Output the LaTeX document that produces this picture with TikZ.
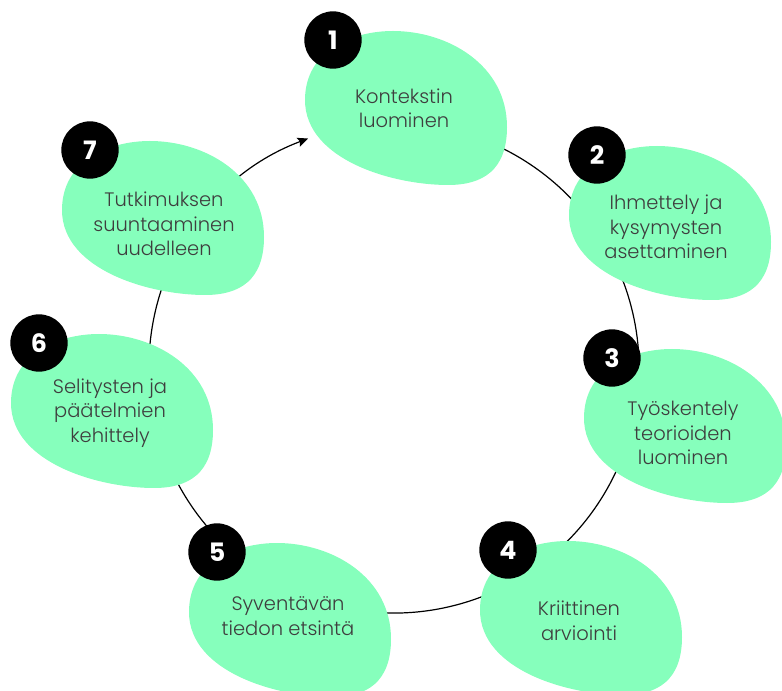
\documentclass[tikz,border=0pt]{standalone}
\usepackage{fontspec}
\setmainfont{Poppins}
\IfFontExistsTF{Poppins Light}{\newfontfamily\lightfont{Poppins Light}}{\newfontfamily\lightfont{Poppins}}
\usetikzlibrary{arrows.meta}

\definecolor{mint}{RGB}{134,255,188}
\definecolor{labelgray}{RGB}{62,62,62}

\tikzset{
  blobshape/.pic = {
    \fill[mint] (60,-9) .. controls (115,-9) and (174,25) .. (174,87)
      .. controls (174,130) and (150,145) .. (115,145)
      .. controls (60,145) and (-28,120) .. (-28,60)
      .. controls (-28,10) and (20,-9) .. (60,-9) -- cycle;
  }
}

\begin{document}
\begin{tikzpicture}[x=0.75pt, y=-0.75pt,
  ring/.style = {line width=0.9pt, black},
  badge/.style = {circle, fill=black, minimum size=43pt, inner sep=0pt,
    text=white, font=\bfseries\fontsize{19}{19}\selectfont},
  blobtext/.style = {align=center, text=labelgray,
    font=\lightfont\fontsize{14.6}{18.4}\selectfont}]
  \useasboundingbox (0,0) rectangle (782,691);

  % the ring behind the steps
  \coordinate (ring) at (394,368);
  \draw[ring, -{Stealth[length=8pt, width=7pt, inset=1.5pt]}]
    (ring) ++(252:245) arc[start angle=252, end angle=609.5, radius=245];

  % blobs and numbers
  \foreach \n/\bx/\by in {1/333/40, 2/597/155, 3/612/358, 4/508/550,
                          5/217/552, 6/39/343, 7/90/150}
    \pic at (\bx,\by) {blobshape};
  \foreach \n/\bx/\by in {1/333/40, 2/597/155, 3/612/358, 4/508/550,
                          5/217/552, 6/39/343, 7/90/150}
    \node[badge] (b\n) at (\bx,\by) {\n};

  % texts
  \node[blobtext] (t1) at (404,108.5) {Kontekstin\\luominen};
  \node[blobtext] (t2) at (666,227) {Ihmettely ja\\kysymysten\\asettaminen};
  \node[blobtext] (t3) at (683,433) {Työskentely\\teorioiden\\luominen};
  \node[blobtext] (t4) at (579,621) {Kriittinen\\arviointi};
  \node[blobtext] (t5) at (288,616) {Syventävän\\tiedon etsintä};
  \node[blobtext] (t6) at (110,413) {Selitysten ja\\päätelmien\\kehittely};
  \node[blobtext] (t7) at (164,224) {Tutkimuksen\\suuntaaminen\\uudelleen};
\end{tikzpicture}
\end{document}
